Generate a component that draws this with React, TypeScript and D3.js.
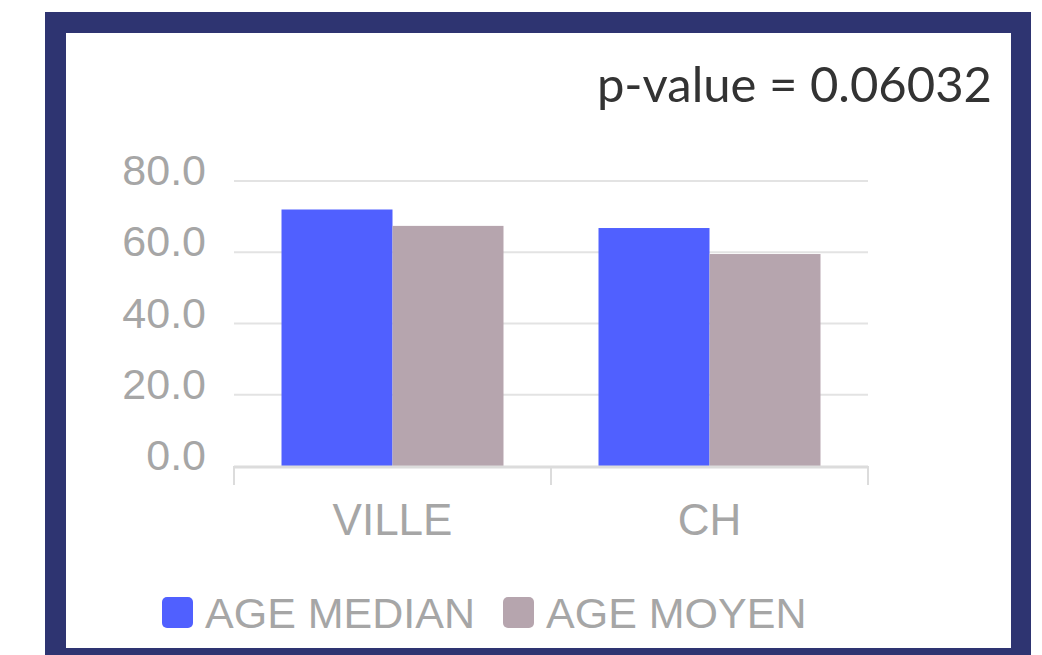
import React from "react";
import * as d3 from "d3";

const categories = ["VILLE", "CH"];
const seriesNames = ["AGE MEDIAN", "AGE MOYEN"];
const ageMedian = [72, 66.8];
const ageMoyen = [67.4, 59.5];
const yTicks = [0, 20, 40, 60, 80];
const colors = ["#5060ff", "#b6a5ae"];
const title = "p-value = 0.06032";

export default function App() {
  const W = 1042, H = 655;
  const y = d3.scaleLinear().domain([0, 80]).range([466, 181]);
  const x = d3.scaleBand<string>().domain(categories).range([234, 868]).paddingInner(0).paddingOuter(0);
  const xs = d3.scaleBand<string>().domain(seriesNames).range([0, x.bandwidth()]).paddingInner(0).paddingOuter(0.428);
  const values = [ageMedian, ageMoyen];
  const fmt = d3.format(".1f");
  const font = "'Liberation Sans', Arial, sans-serif";
  const legendX = [162, 503];
  return (
    <svg width={W} height={H} style={{ position: "absolute", left: 0, top: 0 }}>
      <rect x={0} y={0} width={W} height={H} fill="#fff" />
      <rect x={45} y={12} width={986} height={660} fill="#2e3471" />
      <rect x={66} y={33} width={945} height={615} fill="#fff" />
      <text x={992} y={102} textAnchor="end" fontFamily="Lato, 'Noto Sans', sans-serif" fontSize={49} fill="#333">{title}</text>
      {yTicks.map((t) => (
        <g key={t}>
          {t !== 0 && <line x1={234} x2={868} y1={y(t)} y2={y(t)} stroke="#e3e3e3" strokeWidth={2} />}
          <text x={206} y={y(t) + 4} textAnchor="end" fontFamily={font} fontSize={43} fill="#a6a6a6">{fmt(t)}</text>
        </g>
      ))}
      {categories.map((c, i) => (
        <g key={c}>
          {seriesNames.map((s, j) => (
            <rect key={s} x={(x(c) as number) + (xs(s) as number)} y={y(values[j][i])} width={xs.bandwidth()} height={y(0) - y(values[j][i])} fill={colors[j]} />
          ))}
          <text x={(x(c) as number) + x.bandwidth() / 2} y={535} textAnchor="middle" fontFamily={font} fontSize={44} fill="#a6a6a6">{c}</text>
        </g>
      ))}
      <line x1={234} x2={868} y1={y(0) + 1} y2={y(0) + 1} stroke="#dcdcdc" strokeWidth={3} />
      {[...categories.map((c) => x(c) as number), 868].map((tx, i) => (
        <line key={i} x1={tx} x2={tx} y1={466} y2={485} stroke="#dcdcdc" strokeWidth={2} />
      ))}
      {seriesNames.map((s, j) => (
        <g key={s}>
          <rect x={legendX[j]} y={597} width={31} height={31} rx={5} fill={colors[j]} />
          <text x={legendX[j] + 43} y={628} fontFamily={font} fontSize={43} fill="#a6a6a6">{s}</text>
        </g>
      ))}
    </svg>
  );
}
